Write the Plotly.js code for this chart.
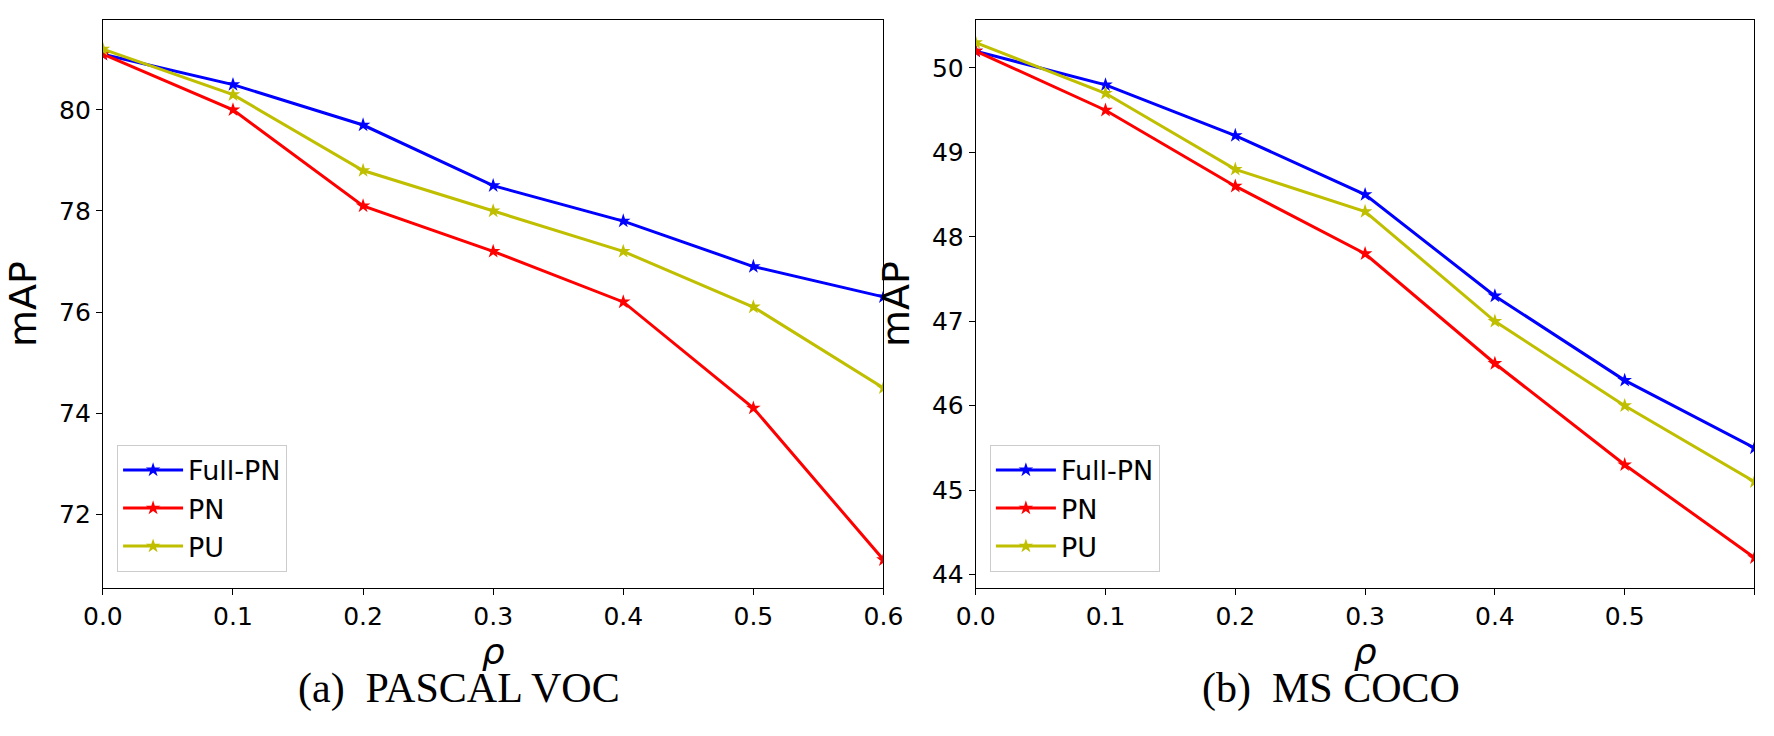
<!DOCTYPE html><html><head><script src="https://cdn.plot.ly/plotly-3.0.1.min.js"></script></head><body style="margin:0"><div id="c" style="width:1774px;height:736px"></div><script>
const rho=[0,0.1,0.2,0.3,0.4,0.5,0.6];
const vocFull=[81.1,80.5,79.7,78.5,77.8,76.9,76.3];
const vocPN=[81.1,80.0,78.1,77.2,76.2,74.1,71.1];
const vocPU=[81.2,80.3,78.8,78.0,77.2,76.1,74.5];
const cocoFull=[50.2,49.8,49.2,48.5,47.3,46.3,45.5];
const cocoPN=[50.2,49.5,48.6,47.8,46.5,45.3,44.2];
const cocoPU=[50.3,49.7,48.8,48.3,47.0,46.0,45.1];
const names=['Full-PN','PN','PU'], cols=['#0000ff','#ff0000','#bfbf00'];
const tr=[];
[[vocFull,vocPN,vocPU],[cocoFull,cocoPN,cocoPU]].forEach((set,k)=>set.forEach((y,i)=>tr.push({x:rho,y:y,name:names[i],mode:'lines+markers',xaxis:k?'x2':'x',yaxis:k?'y2':'y',showlegend:k==0,legend:'legend',line:{color:cols[i],width:3},marker:{symbol:'star',size:11,color:cols[i]}})));
[cocoFull,cocoPN,cocoPU].forEach((y,i)=>tr.push({x:[null],y:[null],name:names[i],mode:'lines+markers',xaxis:'x2',yaxis:'y2',legend:'legend2',line:{color:cols[i],width:3},marker:{symbol:'star',size:11,color:cols[i]}}));
const ax={showline:true,mirror:true,linecolor:'#000',linewidth:1,ticks:'outside',ticklen:6,tickcolor:'#000',showgrid:false,zeroline:false,tickfont:{family:'DejaVu Sans',size:25,color:'#000'}};
const xa=d=>Object.assign({},ax,{domain:d,range:[0,0.6],tickvals:rho,ticktext:rho.map(v=>v.toFixed(1)),title:{text:'<i>ρ</i>',font:{family:'DejaVu Sans',size:36,color:'#000'},standoff:8}});
const leg=x=>({x:x,y:0.223,xanchor:'left',yanchor:'bottom',xref:'paper',yref:'paper',bgcolor:'#fff',bordercolor:'#ccc',borderwidth:1,itemwidth:60,font:{family:'DejaVu Sans',size:27,color:'#000'},tracegroupgap:0});
Plotly.newPlot('c',tr,{width:1774,height:736,margin:{l:0,r:0,t:0,b:0},paper_bgcolor:'#fff',plot_bgcolor:'#fff',
xaxis:xa([0.058,0.498]),xaxis2:xa([0.55,0.989]),
yaxis:Object.assign({},ax,{domain:[0.201,0.973],range:[70.54,81.78],tickvals:[72,74,76,78,80],title:{text:'mAP',font:{family:'DejaVu Sans',size:38,color:'#000'},standoff:10}}),
yaxis2:Object.assign({},ax,{anchor:'x2',domain:[0.201,0.973],range:[43.84,50.57],tickvals:[44,45,46,47,48,49,50],title:{text:'mAP',font:{family:'DejaVu Sans',size:38,color:'#000'},standoff:10}}),
legend:leg(0.066),legend2:leg(0.558),
annotations:[{text:'(a)  PASCAL VOC',x:0.259},{text:'(b)  MS COCO',x:0.75}].map(a=>Object.assign(a,{xref:'paper',yref:'paper',showarrow:false,xanchor:'center',y:1-688/736,yanchor:'middle',font:{family:'Liberation Serif',size:42,color:'#000'}}))
},{displayModeBar:false});
</script></body></html>
